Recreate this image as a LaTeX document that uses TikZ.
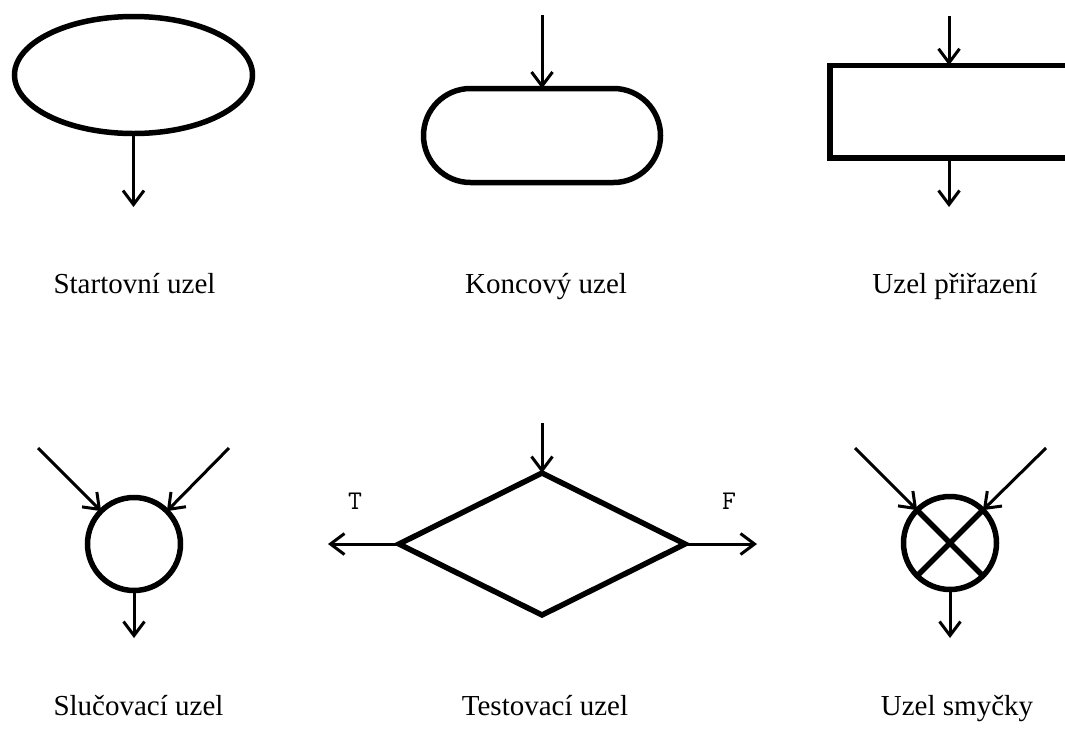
\documentclass[tikz,border=0pt]{standalone}
\usepackage{fontspec}
\setmainfont{Liberation Serif}
\usetikzlibrary{shapes.geometric,arrows.meta}
\begin{document}
\begin{tikzpicture}[x=1pt,y=-1pt,
  shapebox/.style={draw=black,line width=5.5pt,inner sep=0pt,outer sep=0pt},
  conn/.style={line width=3pt,-{Straight Barb[length=14pt,width=21pt,line width=3pt]}},
  lbl/.style={anchor=base,font=\fontsize{29}{34}\selectfont},
  tf/.style={font=\ttfamily\fontsize{27}{30}\selectfont}]
\useasboundingbox (0,0) rectangle (1065,729);
\clip (0,0) rectangle (1065,729);
% top row
\node[shapebox,ellipse,minimum width=238pt,minimum height=117pt] (start) at (133.5,75) {};
\coordinate (startout) at (133.5,207);
\draw[conn] (start.south) -- (startout);

\node[shapebox,rectangle,rounded corners=47pt,minimum width=237pt,minimum height=94pt] (endn) at (542,135.5) {};
\coordinate (endin) at (542,15);
\draw[conn] (endin) -- (endn.north);

\node[shapebox,rectangle,minimum width=238pt,minimum height=92.5pt] (assign) at (949,111.5) {};
\coordinate (assignin) at (949,16);
\coordinate (assignout) at (949,207);
\draw[conn] (assignin) -- (assign.north);
\draw[conn] (assign.south) -- (assignout);

\node[lbl] (l1) at (134.5,293) {Startovní uzel};
\node[lbl] (l2) at (546,293) {Koncový uzel};
\node[lbl] (l3) at (955,293) {Uzel přiřazení};

% bottom row
\node[shapebox,circle,minimum size=93pt] (merge) at (134,544) {};
\coordinate (mergeinl) at (38,448);
\coordinate (mergeinr) at (229,448);
\coordinate (mergeout) at (134,638);
\draw[conn] (mergeinl) -- (merge.north west);
\draw[conn] (mergeinr) -- (merge.north east);
\draw[conn] (merge.south) -- (mergeout);

\node[shapebox,diamond,minimum width=286pt,minimum height=142pt] (test) at (542,544) {};
\coordinate (testin) at (542,423);
\coordinate (testT) at (328,544);
\coordinate (testF) at (757,544);
\draw[conn] (testin) -- (test.north);
\draw[conn] (test.west) -- (testT);
\draw[conn] (test.east) -- (testF);
\node[tf] (T) at (355,501) {T};
\node[tf] (F) at (729,501) {F};

\node[shapebox,circle,minimum size=93pt] (loop) at (950,543) {};
\draw[line width=5.5pt] (loop.north west) -- (loop.south east);
\draw[line width=5.5pt] (loop.north east) -- (loop.south west);
\coordinate (loopinl) at (855,448);
\coordinate (loopinr) at (1046,448);
\coordinate (loopout) at (950,638);
\draw[conn] (loopinl) -- (loop.north west);
\draw[conn] (loopinr) -- (loop.north east);
\draw[conn] (loop.south) -- (loopout);

\node[lbl] (l4) at (138.5,715) {Slučovací uzel};
\node[lbl] (l5) at (545,715) {Testovací uzel};
\node[lbl] (l6) at (957,715) {Uzel smyčky};
\end{tikzpicture}
\end{document}
